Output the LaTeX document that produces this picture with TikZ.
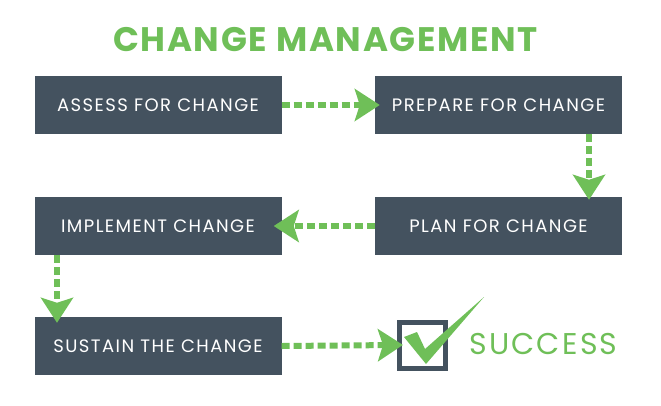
\documentclass[tikz,border=0pt]{standalone}
\usepackage{fontspec}
\setmainfont{Poppins}
\newfontfamily\boxfont[LetterSpace=8]{Poppins}
\newfontfamily\titlefont[LetterSpace=5]{Poppins}
\newfontfamily\succfont[LetterSpace=7.5]{Poppins}
\usetikzlibrary{arrows.meta,calc}
\definecolor{slate}{HTML}{44525F}
\definecolor{cgreen}{HTML}{6FBF58}
\tikzset{
  stepbox/.style={fill=slate, draw=none, minimum width=247pt, minimum height=58pt, inner sep=0pt,
     text=white, font=\boxfont\fontsize{18}{18}\selectfont},
  flow/.style={cgreen, line width=6pt, dash pattern=on 8pt off 4pt,
     -{Stealth[length=25pt,width=32pt,inset=5pt]}},
}
\begin{document}
\begin{tikzpicture}[x=1pt,y=-1pt]
\useasboundingbox (0,0) rectangle (661,405);
\fill[white] (0,0) rectangle (661,405);
\node[text=cgreen, font=\titlefont\fontsize{34}{34}\selectfont\bfseries] (title) at (325.5,40) {CHANGE MANAGEMENT};
\node[stepbox] (assess) at (158,105) {ASSESS FOR CHANGE};
\node[stepbox] (prep) at (498.5,105) {PREPARE FOR CHANGE};
\node[stepbox] (plan) at (498.5,226) {PLAN FOR CHANGE};
\node[stepbox] (impl) at (158,226) {IMPLEMENT CHANGE};
\node[stepbox] (sust) at (158,346) {SUSTAIN THE CHANGE};
\coordinate (cx2) at (589,0);
\coordinate (cx4) at (57,0);
\draw[flow, shorten >=-5pt] (assess.east) -- (prep.west);
\draw[flow, shorten >=-3pt] (prep.south -| cx2) -- (plan.north -| cx2);
\draw[flow, shorten >=-8pt] (plan.west) -- (impl.east);
\draw[flow, shorten >=-6pt] (impl.south -| cx4) -- (sust.north -| cx4);
\node[draw=slate, line width=5pt, fill=white, minimum size=46pt, inner sep=0pt] (check) at (422.5,345) {};
\draw[flow, shorten >=-6pt] (sust.east) -- (check.west);
\fill[cgreen] (404,337) -- (417,332) -- (425,349) -- (484,297) -- (426,364) -- cycle;
\node[text=cgreen, font=\succfont\fontsize{30}{30}\selectfont, anchor=west, inner sep=0pt] (succ) at (469,344) {SUCCESS};
\end{tikzpicture}
\end{document}
